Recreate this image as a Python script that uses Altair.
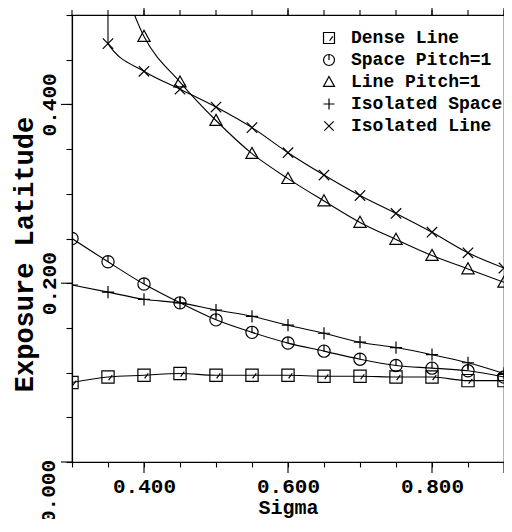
import json
import altair as alt
import pandas as pd

# ---- data ----
sigma = [0.30, 0.35, 0.40, 0.45, 0.50, 0.55, 0.60, 0.65, 0.70, 0.75, 0.80, 0.85, 0.90]
series_names = ["Dense Line", "Space Pitch=1", "Line Pitch=1", "Isolated Space", "Isolated Line"]

dense_line = [0.089, 0.095, 0.097, 0.099, 0.097, 0.097, 0.097, 0.096, 0.096, 0.095, 0.095, 0.091, 0.091]
space_pitch = [0.250, 0.224, 0.199, 0.178, 0.159, 0.145, 0.133, 0.124, 0.115, 0.108, 0.105, 0.102, 0.095]
line_pitch = [None, None, 0.476, 0.425, 0.382, 0.345, 0.317, 0.292, 0.268, 0.249, 0.231, 0.216, 0.201]
iso_space = [0.198, 0.190, 0.182, 0.178, 0.170, 0.163, 0.153, 0.144, 0.134, 0.128, 0.120, 0.111, 0.099]
iso_line = [None, 0.468, 0.437, 0.417, 0.397, 0.374, 0.346, 0.321, 0.298, 0.278, 0.257, 0.234, 0.217]

# fitted curves continue above the top of the frame (clipped)
line_pitch_fit_sigma = [0.30, 0.35]
line_pitch_fit = [0.68, 0.58]
iso_line_fit_sigma = [0.30]
iso_line_fit = [60.0]

x_tick_values = [0.30, 0.35, 0.40, 0.45, 0.50, 0.55, 0.60, 0.65, 0.70, 0.75, 0.80, 0.85, 0.90]
x_labels = ["0.400", "0.600", "0.800"]
y_tick_values = [0.0, 0.05, 0.10, 0.15, 0.20, 0.25, 0.30, 0.35, 0.40, 0.45, 0.50]
y_labels = ["0.000", "0.200", "0.400"]

# symbols (custom paths in unit square)
shape_paths = [
    "M-1,-1L1,-1L1,1L-1,1Z M0.1,0.5L0.7,-0.3",
    "M1,0A1,1 0 1,1 -1,0A1,1 0 1,1 1,0Z M0,-1L0,0",
    "M0,-1L1,0.8L-1,0.8Z",
    "M-1,0L1,0M0,-1L0,1",
    "M-0.85,-0.85L0.85,0.85M-0.85,0.85L0.85,-0.85",
]

values_by_series = [dense_line, space_pitch, line_pitch, iso_space, iso_line]

pts = []
for name, vals in zip(series_names, values_by_series):
    for s, v in zip(sigma, vals):
        if v is not None:
            pts.append({"series": name, "sigma": s, "lat": v})
pts_df = pd.DataFrame(pts)

line_rows = list(pts)
for s, v in zip(line_pitch_fit_sigma, line_pitch_fit):
    line_rows.append({"series": "Line Pitch=1", "sigma": s, "lat": v})
for s, v in zip(iso_line_fit_sigma, iso_line_fit):
    line_rows.append({"series": "Isolated Line", "sigma": s, "lat": v})
line_df = pd.DataFrame(line_rows).sort_values(["series", "sigma"])

x_ticks_df = pd.DataFrame({
    "sigma": x_tick_values,
    "major": [("%.3f" % v) in x_labels or v >= 0.899 for v in x_tick_values],
})
y_ticks_df = pd.DataFrame({
    "lat": y_tick_values,
    "major": [("%.3f" % v) in y_labels for v in y_tick_values],
})
x_major_df = x_ticks_df[x_ticks_df["major"]]
y_major_df = y_ticks_df[y_ticks_df["major"]]

FONT = "Liberation Mono"

x_lab_test = "indexof(%s, format(datum.value, '.3f')) >= 0" % json.dumps(x_labels)
# the 0.000 label is drawn separately (shifted up, like the reference)
y_axis_labels = [l for l in y_labels if l != "0.000"]
y_lab_test = "indexof(%s, format(datum.value, '.3f')) >= 0" % json.dumps(y_axis_labels)

xscale = alt.Scale(domain=[0.3, 0.9], nice=False, zero=False, padding=0)
yscale = alt.Scale(domain=[0.0, 0.5], nice=False, zero=False, padding=0)

common_axis = dict(
    domainColor="black", domainWidth=1.2, tickColor="black", tickWidth=1.1,
    grid=False, labelColor="black", labelFont=FONT, labelFontWeight="bold",
    titleColor="black", titleFont=FONT, titleFontWeight="bold",
)

x_bottom = alt.Axis(
    orient="bottom", values=x_tick_values, tickSize=5,
    labelExpr="%s ? format(datum.value, '.3f') : ''" % x_lab_test,
    labelFontSize=21, labelPadding=8, labelBaseline="top",
    title="Sigma", titleFontSize=20, titleX=216, titleY=51, titleBaseline="alphabetic",
    titleAlign="center", labelFlush=False, labelOverlap=False,
    **common_axis,
)
y_left = alt.Axis(
    orient="left", values=y_tick_values, tickSize=6,
    labelExpr="%s ? format(datum.value, '.3f') : ''" % y_lab_test,
    labelFontSize=21, labelAngle=270, labelAlign="center", labelBaseline="bottom",
    labelPadding=7,
    title="Exposure Latitude", titleFontSize=27, titleAngle=270,
    titleX=-48, titleY=239, titleAlign="center", titleBaseline="middle",
    labelFlush=False, labelOverlap=False,
    **common_axis,
)

lines = alt.Chart(line_df).mark_line(
    clip=True, color="black", strokeWidth=1.1, interpolate="monotone"
).encode(
    x=alt.X("sigma:Q", scale=xscale, axis=x_bottom),
    y=alt.Y("lat:Q", scale=yscale, axis=y_left),
    detail="series:N",
)

points = alt.Chart(pts_df).mark_point(
    clip=True, filled=False, color="black", strokeWidth=1.2, size=150, opacity=1
).encode(
    x=alt.X("sigma:Q", scale=xscale, axis=x_bottom),
    y=alt.Y("lat:Q", scale=yscale, axis=y_left),
    shape=alt.Shape(
        "series:N",
        scale=alt.Scale(domain=series_names, range=shape_paths),
        sort=series_names,
        legend=alt.Legend(
            orient="none", legendX=248, legendY=14, title=None, padding=0,
            labelFont=FONT, labelFontWeight="bold", labelFontSize=18,
            labelColor="black", labelOffset=13, rowPadding=4,
            symbolSize=120, symbolStrokeColor="black", symbolFillColor="transparent",
            symbolStrokeWidth=1.2, symbolOpacity=1,
        ),
    ),
)


def x_edge_ticks(df, edge_value, length):
    return alt.Chart(df).mark_rule(color="black", strokeWidth=1.1, y2Offset=length).encode(
        x=alt.X("sigma:Q", scale=xscale, axis=x_bottom),
        y=alt.YDatum(edge_value, scale=yscale, axis=y_left),
        y2=alt.Y2Datum(edge_value),
    )


def y_edge_ticks(df, edge_value, length):
    return alt.Chart(df).mark_rule(color="black", strokeWidth=1.1, x2Offset=length).encode(
        y=alt.Y("lat:Q", scale=yscale, axis=y_left),
        x=alt.XDatum(edge_value, scale=xscale, axis=x_bottom),
        x2=alt.X2Datum(edge_value),
    )


extra_ticks = [
    x_edge_ticks(x_major_df, 0.0, 11),    # long bottom ticks
    y_edge_ticks(y_major_df, 0.3, -11),   # long left ticks
    x_edge_ticks(x_ticks_df, 0.5, -5),    # top ticks
    x_edge_ticks(x_major_df, 0.5, -9),
]

zero_label = alt.Chart(pd.DataFrame({"label": [y_labels[0]]})).mark_text(
    angle=270, align="right", baseline="bottom", font=FONT, fontWeight="bold",
    fontSize=21, color="black", xOffset=-13, yOffset=-2,
).encode(
    x=alt.XDatum(0.3, scale=xscale, axis=x_bottom),
    y=alt.YDatum(0.0, scale=yscale, axis=y_left),
    text="label:N",
)

chart = alt.layer(lines, points, *extra_ticks, zero_label).properties(
    width=432, height=447,
    autosize=alt.AutoSizeParams(type="none"),
    padding={"left": 64, "top": 7, "right": 0, "bottom": 57},
    background="white",
).configure_view(stroke="black", strokeWidth=1.2)

chart.save("out.html", embed_options={"renderer": "svg", "actions": False})
